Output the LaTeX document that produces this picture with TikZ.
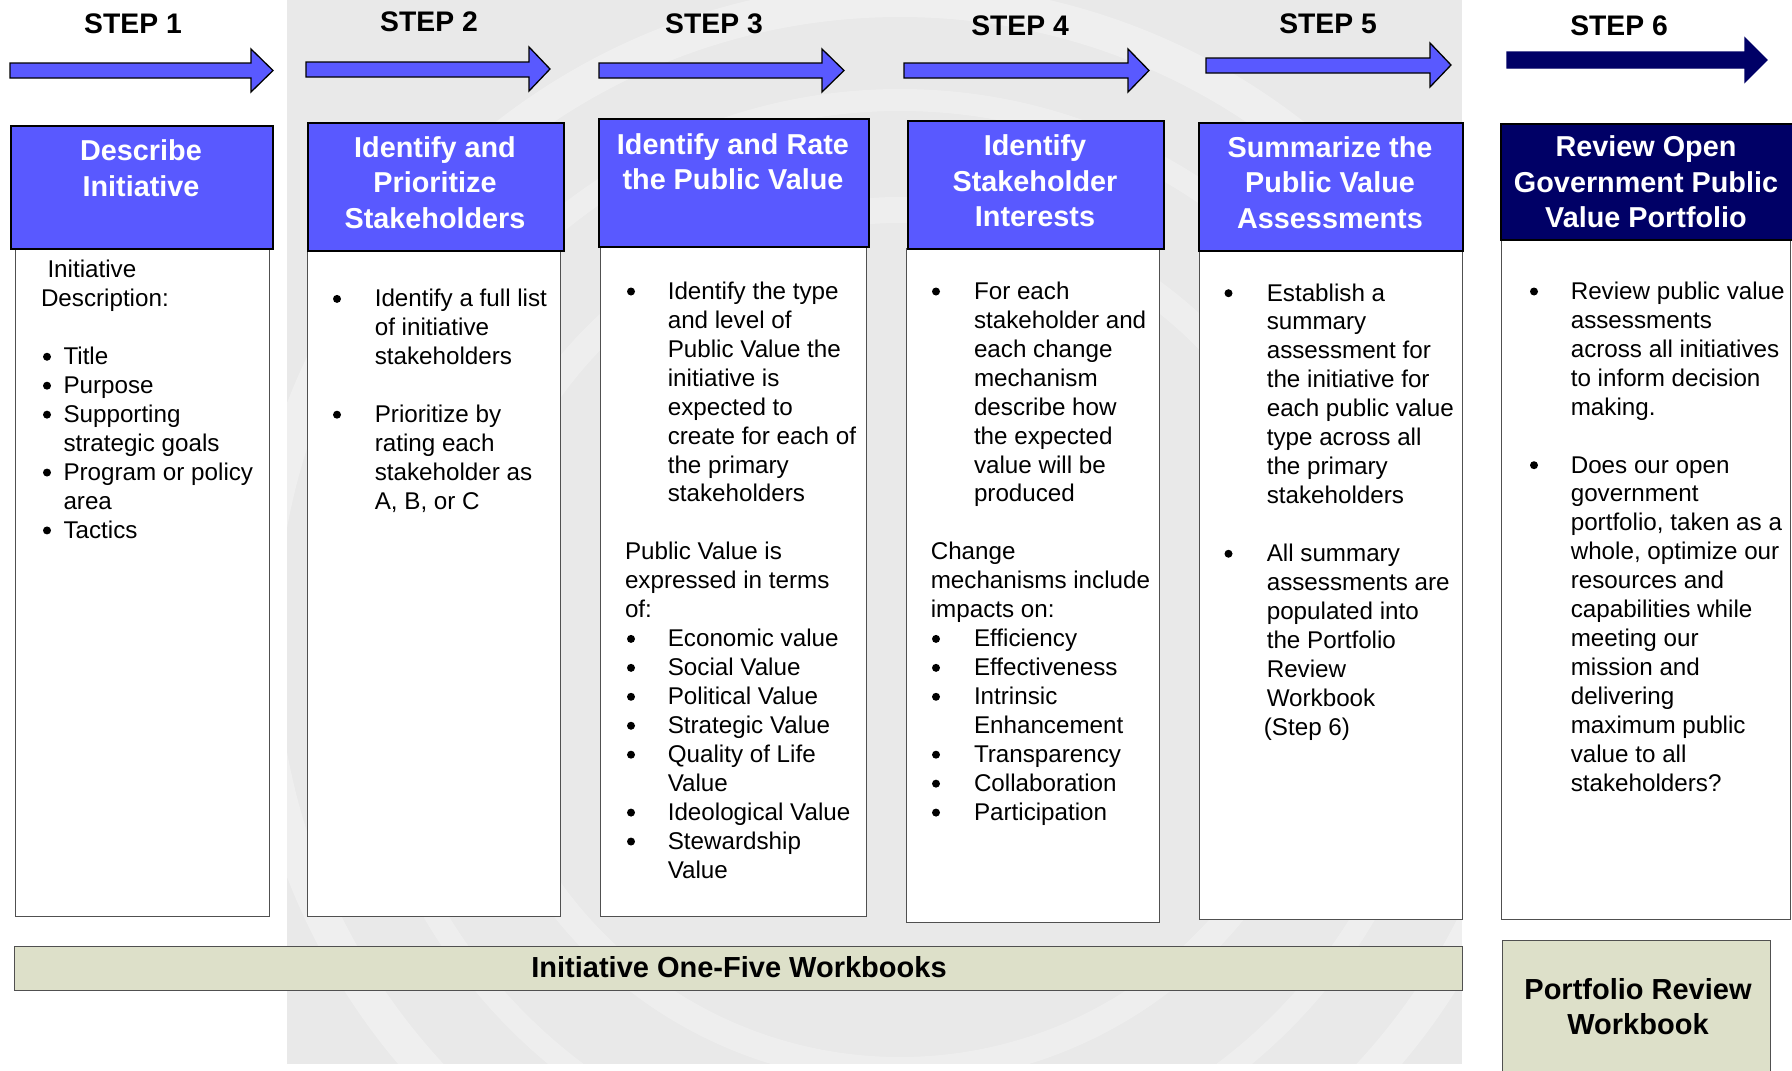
\documentclass[tikz,border=0pt]{standalone}
\usepackage{fontspec}
\setmainfont{Liberation Sans}
\definecolor{stepblue}{RGB}{89,89,255}
\definecolor{stepnavy}{RGB}{0,0,102}
\definecolor{wbgreen}{RGB}{221,224,201}
\definecolor{wmgrey}{RGB}{233,233,233}
\definecolor{boxedge}{RGB}{80,80,80}
\newlength\bd
\newcommand\bdot{\tikz[baseline=0pt]\fill[black] (4pt,7.8pt) circle[radius=4pt];}
\newcommand\bul[1]{\hbox{\hbox to 0pt{\hskip-\bd\bdot\hss}#1}}
\newcommand\tline[1]{\hbox{#1}}
\newcommand\sline[2]{\hbox{\hskip-#1\relax #2}}
\newcommand\eline{\hbox{}}
\newcommand\colbox[2]{\parbox[t]{320pt}{\setlength\bd{#1}\fontsize{24.2}{28.95}\selectfont #2}}
\newcommand\hdrtext[1]{\parbox[t]{300pt}{\centering\bfseries\fontsize{28.8}{35.3}\selectfont #1}}
\tikzset{
  txt/.style={inner sep=0pt, outer sep=0pt},
  hdrbox/.style={draw=black, line width=2.4pt, fill=stepblue, anchor=north west, inner sep=0pt},
  hdrnavy/.style={hdrbox, fill=stepnavy},
  bodybox/.style={draw=boxedge, line width=1.3pt, fill=white, anchor=north west, inner sep=0pt},
  wbbox/.style={draw=boxedge, line width=1.3pt, fill=wbgreen, anchor=north west, inner sep=0pt},
  arrowblue/.style={fill=stepblue, draw=black, line width=1.3pt, line join=miter},
  arrownavy/.style={fill=stepnavy, draw=stepnavy, line width=1.3pt, line join=miter},
  steplabel/.style={txt, anchor=base, font=\bfseries\fontsize{28.3}{34}\selectfont},
  hdrlabel/.style={txt, anchor=base, text=white},
  wblabel/.style={txt, anchor=base, font=\bfseries\fontsize{29}{35.5}\selectfont},
  coltext/.style={txt, anchor=base west}
}
\newcommand\steparrow[8]{%
  \draw[#1] (#2,#5) -- (#3,#5) -- (#3,#7) -- (#4,{(#7+#8)/2}) -- (#3,#8) -- (#3,#6) -- (#2,#6) -- cycle;}
\begin{document}
\begin{tikzpicture}[x=1pt,y=-1pt]
\useasboundingbox (0,0) rectangle (1792,1071);
\fill[white] (0,0) rectangle (1792,1071);
% watermark
\begin{scope}
  \clip (287,0) rectangle (1462,1064);
  \fill[wmgrey] (287,0) rectangle (1462,1064);
  \draw[white, opacity=0.3, line width=34pt] (900,640) circle[radius=640pt];
  \draw[white, opacity=0.25, line width=22pt] (900,640) circle[radius=540pt];
  \draw[white, opacity=0.25, line width=26pt] (900,640) circle[radius=430pt];
\end{scope}
% arrows
\steparrow{arrowblue}{10}{251}{273}{63}{78}{49}{92}
\steparrow{arrowblue}{306}{529}{550}{62}{77}{47}{91}
\steparrow{arrowblue}{599}{822}{844}{63}{78}{49}{92}
\steparrow{arrowblue}{904}{1128}{1149}{63}{78}{49}{92}
\steparrow{arrowblue}{1206}{1430}{1451}{58}{73}{43}{87}
\steparrow{arrownavy}{1507}{1745}{1767}{52}{68}{38}{82}
% step labels
\node[steplabel] (s1) at (133,33.3) {STEP 1};
\node[steplabel] (s2) at (429,31.7) {STEP 2};
\node[steplabel] (s3) at (714,33.3) {STEP 3};
\node[steplabel] (s4) at (1020,35) {STEP 4};
\node[steplabel] (s5) at (1328,33.3) {STEP 5};
\node[steplabel] (s6) at (1619,35) {STEP 6};
% body boxes
\node[bodybox, minimum width=254pt, minimum height=668pt] (b1) at (15,248) {};
\node[bodybox, minimum width=253pt, minimum height=666pt] (b2) at (307,250) {};
\node[bodybox, minimum width=266pt, minimum height=670pt] (b3) at (600,246) {};
\node[bodybox, minimum width=253pt, minimum height=674pt] (b4) at (906,248) {};
\node[bodybox, minimum width=263pt, minimum height=669pt] (b5) at (1199,250) {};
\node[bodybox, minimum width=289pt, minimum height=680pt] (b6) at (1501,239) {};
% header boxes
\node[hdrbox, minimum width=262pt, minimum height=123pt] (h1) at (10,125) {};
\node[hdrbox, minimum width=256pt, minimum height=128pt] (h2) at (307,122) {};
\node[hdrbox, minimum width=270pt, minimum height=128pt] (h3) at (598,118) {};
\node[hdrbox, minimum width=256pt, minimum height=128pt] (h4) at (907,120) {};
\node[hdrbox, minimum width=264pt, minimum height=128pt] (h5) at (1198,122) {};
\node[hdrnavy, minimum width=300pt, minimum height=116pt] (h6) at (1500,123) {};
% header texts
\node[hdrlabel] (ht1) at (141,160.7) {\hdrtext{Describe\\Initiative}};
\node[hdrlabel] (ht2) at (435,157.4) {\hdrtext{Identify and\\Prioritize\\Stakeholders}};
\node[hdrlabel] (ht3) at (733,154) {\hdrtext{Identify and Rate\\the Public Value}};
\node[hdrlabel] (ht4) at (1035,155.7) {\hdrtext{Identify\\Stakeholder\\Interests}};
\node[hdrlabel] (ht5) at (1330,157.5) {\hdrtext{Summarize the\\Public Value\\Assessments}};
\node[hdrlabel] (ht6) at (1646,156.7) {\hdrtext{Review Open\\Government Public\\Value Portfolio}};
% column texts
\node[coltext] (c1) at (63.5,277.7) {\colbox{20.5pt}{%
  \sline{16pt}{Initiative}
  \sline{22.5pt}{Description:}
  \eline
  \bul{Title}
  \bul{Purpose}
  \bul{Supporting}
  \tline{strategic goals}
  \bul{Program or policy}
  \tline{area}
  \bul{Tactics}}};
\node[coltext] (c2) at (374.8,306.7) {\colbox{41.8pt}{%
  \bul{Identify a full list}
  \tline{of initiative}
  \tline{stakeholders}
  \eline
  \bul{Prioritize by}
  \tline{rating each}
  \tline{stakeholder as}
  \tline{A, B, or C}}};
\node[coltext] (c3) at (667.8,299.3) {\colbox{40.8pt}{%
  \bul{Identify the type}
  \tline{and level of}
  \tline{Public Value the}
  \tline{initiative is}
  \tline{expected to}
  \tline{create for each of}
  \tline{the primary}
  \tline{stakeholders}
  \eline
  \sline{42.8pt}{Public Value is}
  \sline{42.8pt}{expressed in terms}
  \sline{42.8pt}{of:}
  \bul{Economic value}
  \bul{Social Value}
  \bul{Political Value}
  \bul{Strategic Value}
  \bul{Quality of Life}
  \tline{Value}
  \bul{Ideological Value}
  \bul{Stewardship}
  \tline{Value}}};
\node[coltext] (c4) at (974,299.3) {\colbox{42pt}{%
  \bul{For each}
  \tline{stakeholder and}
  \tline{each change}
  \tline{mechanism}
  \tline{describe how}
  \tline{the expected}
  \tline{value will be}
  \tline{produced}
  \eline
  \sline{43.2pt}{Change}
  \sline{43.2pt}{mechanisms include}
  \sline{43.2pt}{impacts on:}
  \bul{Efficiency}
  \bul{Effectiveness}
  \bul{Intrinsic}
  \tline{Enhancement}
  \bul{Transparency}
  \bul{Collaboration}
  \bul{Participation}}};
\node[coltext] (c5) at (1266.8,301) {\colbox{42.3pt}{%
  \bul{Establish a}
  \tline{summary}
  \tline{assessment for}
  \tline{the initiative for}
  \tline{each public value}
  \tline{type across all}
  \tline{the primary}
  \tline{stakeholders}
  \eline
  \bul{All summary}
  \tline{assessments are}
  \tline{populated into}
  \tline{the Portfolio}
  \tline{Review}
  \tline{Workbook}
  \sline{2.9pt}{(Step 6)}}};
\node[coltext] (c6) at (1570.8,299.3) {\colbox{40.8pt}{%
  \bul{Review public value}
  \tline{assessments}
  \tline{across all initiatives}
  \tline{to inform decision}
  \tline{making.}
  \eline
  \bul{Does our open}
  \tline{government}
  \tline{portfolio, taken as a}
  \tline{whole, optimize our}
  \tline{resources and}
  \tline{capabilities while}
  \tline{meeting our}
  \tline{mission and}
  \tline{delivering}
  \tline{maximum public}
  \tline{value to all}
  \tline{stakeholders?}}};
% workbooks
\node[wbbox, minimum width=1448pt, minimum height=44pt] (wb) at (14,946) {};
\node[wblabel] (wbt) at (739,977) {Initiative One-Five Workbooks};
\node[wbbox, minimum width=268pt, minimum height=150pt] (pw) at (1502,940) {};
\node[wblabel] (pwt) at (1638,999) {\parbox[t]{300pt}{\centering Portfolio Review\\Workbook}};
\end{tikzpicture}
\end{document}
